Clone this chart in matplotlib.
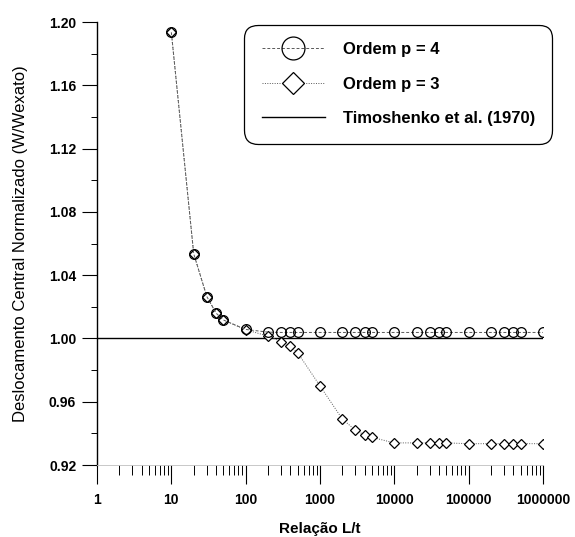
import matplotlib.pyplot as plt
from matplotlib.lines import Line2D
from matplotlib.ticker import MultipleLocator, LogLocator, NullFormatter, FixedLocator

plt.rcParams['font.family'] = ['Liberation Sans', 'DejaVu Sans']

# dados
relacao_lt = [10, 20, 30, 40, 50, 100, 200, 300, 400, 500,
              1000, 2000, 3000, 4000, 5000, 10000,
              20000, 30000, 40000, 50000, 100000,
              200000, 300000, 400000, 500000, 1000000]
ordem_p4 = [1.1935, 1.0535, 1.0265, 1.0160, 1.0117, 1.0057, 1.0040, 1.0038, 1.0038, 1.0038,
            1.0038, 1.0038, 1.0038, 1.0038, 1.0038, 1.0038,
            1.0038, 1.0038, 1.0038, 1.0038, 1.0038,
            1.0038, 1.0038, 1.0038, 1.0038, 1.0038]
ordem_p3 = [1.1935, 1.0535, 1.0265, 1.0160, 1.0117, 1.0055, 1.0015, 0.9980, 0.9950, 0.9910,
            0.9700, 0.9490, 0.9420, 0.9390, 0.9375, 0.9340,
            0.9340, 0.9340, 0.9340, 0.9340, 0.9335,
            0.9335, 0.9335, 0.9335, 0.9335, 0.9335]
timoshenko_x = [1, 1000000]
timoshenko_y = [1.0, 1.0]

fig = plt.figure(figsize=(5.75, 5.37), dpi=100)
ax = fig.add_axes([0.1687, 0.134, 0.7757, 0.825])

ax.plot(timoshenko_x, timoshenko_y, color='black', lw=1.0)
ax.plot(relacao_lt, ordem_p3, color='0.35', lw=0.7, ls=(0, (1, 1.5)),
        marker='D', markersize=5.5, mfc='white', mec='black', mew=0.9)
ax.plot(relacao_lt, ordem_p4, color='0.35', lw=0.7, ls=(0, (3, 2)),
        marker='o', markersize=7, mfc='none', mec='black', mew=0.9)

ax.set_xscale('log')
ax.set_xlim(1, 1000000)
ax.set_ylim(0.92, 1.20)

ax.xaxis.set_major_locator(FixedLocator([1, 10, 100, 1000, 10000, 100000, 1000000]))
ax.set_xticklabels(['1', '10', '100', '1000', '10000', '100000', '1000000'])
ax.xaxis.set_minor_locator(LogLocator(base=10, subs=range(2, 10), numticks=20))
ax.xaxis.set_minor_formatter(NullFormatter())
ax.yaxis.set_minor_locator(MultipleLocator(0.02))
ax.set_yticks([0.92, 0.96, 1.00, 1.04, 1.08, 1.12, 1.16, 1.20])
ax.set_yticklabels(['0.92', '0.96', '1.00', '1.04', '1.08', '1.12', '1.16', '1.20'])

ax.tick_params(axis='x', which='major', direction='out', length=14, width=0.8, pad=6, labelsize=10)
ax.tick_params(axis='x', which='minor', direction='out', length=7, width=0.7)
ax.tick_params(axis='y', which='major', direction='out', length=11, width=0.8, pad=4, labelsize=10)
ax.tick_params(axis='y', which='minor', direction='out', length=4, width=0.7)

for t in ax.get_xticklabels() + ax.get_yticklabels():
    t.set_fontweight('bold')

ax.spines['top'].set_visible(False)
ax.spines['right'].set_visible(False)
ax.spines['left'].set_linewidth(1.0)
ax.spines['bottom'].set_color('0.75')
ax.spines['bottom'].set_linewidth(0.6)

ax.set_xlabel('Relação L/t', fontsize=11, fontweight='bold', labelpad=11)
ax.set_ylabel('Deslocamento Central Normalizado (W/Wexato)', fontsize=12, labelpad=15)

handles = [
    Line2D([], [], color='0.35', lw=0.7, ls=(0, (3, 2)), marker='o', markersize=16.5,
           mfc='none', mec='black', mew=0.9),
    Line2D([], [], color='0.35', lw=0.7, ls=(0, (1, 1.5)), marker='D', markersize=11.5,
           mfc='white', mec='black', mew=0.9),
    Line2D([], [], color='black', lw=1.0),
]
labels = ['Ordem p = 4', 'Ordem p = 3', 'Timoshenko et al. (1970)']
leg = ax.legend(handles, labels, loc='upper right',
                bbox_to_anchor=(549 / 575, 1 - 28 / 537), bbox_transform=fig.transFigure,
                prop={'size': 12, 'weight': 'bold'}, frameon=True, fancybox=True,
                handlelength=3.8, labelspacing=1.17, borderpad=0.85, handletextpad=1.05,
                borderaxespad=0.0)
leg.get_frame().set_edgecolor('black')
leg.get_frame().set_linewidth(0.9)
leg.get_frame().set_alpha(1)
leg.get_frame().set_boxstyle('round', pad=0.2, rounding_size=0.8)

fig.savefig('out.png', dpi=100)
